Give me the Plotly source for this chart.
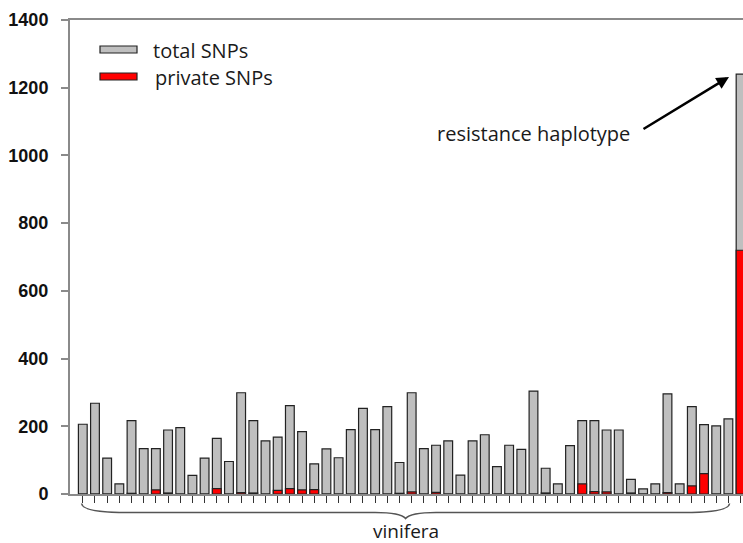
import plotly.graph_objects as go

# ---- data ----
total_snps = [206, 268, 106, 30, 217, 134, 134, 189, 196, 55,
              106, 164, 96, 299, 217, 157, 168, 261, 184, 89,
              133, 107, 190, 253, 190, 258, 93, 299, 134, 144,
              157, 56, 157, 175, 81, 144, 132, 304, 76, 30,
              143, 217, 217, 189, 189, 43, 15, 30, 296, 30,
              258, 205, 201, 222, 1240]
private_snps = [0, 0, 0, 0, 2, 0, 12, 3, 0, 0,
                0, 16, 0, 4, 3, 0, 11, 16, 12, 13,
                0, 0, 0, 0, 0, 0, 2, 6, 0, 5,
                0, 0, 0, 0, 0, 0, 0, 0, 3, 0,
                0, 30, 7, 6, 0, 3, 0, 0, 4, 0,
                24, 60, 0, 0, 720]
y_ticks = [0, 200, 400, 600, 800, 1000, 1200, 1400]
legend_labels = ["total SNPs", "private SNPs"]
group_label = "vinifera"
highlight_label = "resistance haplotype"
n_vinifera = 54

idx = list(range(len(total_snps)))

# plot-area geometry (pixels)
L, R, T, B = 70, 743, 20, 494
W, H = R - L, B - T


def pxx(x):
    return (x - L) / W


def pxy(y):
    return (B - y) / H


GRAY = "#bfbfbf"
RED = "#ff0000"
EDGE = "#222222"
AXIS = "#8a8a8a"
FONT = "Open Sans"
TXT = "#1a1a1a"

fig = go.Figure()
fig.add_trace(go.Bar(x=idx, y=total_snps, width=0.72,
                     marker=dict(color=GRAY, line=dict(color=EDGE, width=1.2)),
                     name=legend_labels[0], showlegend=False))
fig.add_trace(go.Bar(x=idx, y=private_snps, width=0.72,
                     marker=dict(color=RED, line=dict(color=EDGE, width=1.2)),
                     name=legend_labels[1], showlegend=False))

shapes = []
annotations = []

# legend (manual, wide flat swatches)
for i, (lab, col) in enumerate(zip(legend_labels, [GRAY, RED])):
    yc = 49.5 + i * 27
    shapes.append(dict(type="rect", xref="paper", yref="paper",
                       x0=pxx(100), x1=pxx(137), y0=pxy(yc - 3.5), y1=pxy(yc + 3.5),
                       fillcolor=col, line=dict(color=EDGE, width=1.2)))
    annotations.append(dict(xref="paper", yref="paper", x=pxx(151 + i * 2), y=pxy(yc + 1),
                            xanchor="left", yanchor="middle", showarrow=False,
                            text=lab, font=dict(family=FONT, size=20, color=TXT)))

# curly brace under vinifera accessions (x in category units, y in paper)
x_left, x_right = 0, n_vinifera - 1
x_mid = (x_left + x_right) / 2
yb_end, yb_line, yb_tip = pxy(503.5), pxy(512.5), pxy(518.5)
path = (f"M {x_left - 0.1},{yb_end} "
        f"Q {x_left},{yb_line} {x_left + 3.6},{yb_line} "
        f"L {x_mid - 2.5},{yb_line} "
        f"Q {x_mid - 0.4},{yb_line} {x_mid},{yb_tip} "
        f"Q {x_mid + 0.4},{yb_line} {x_mid + 2.5},{yb_line} "
        f"L {x_right - 3.6},{yb_line} "
        f"Q {x_right},{yb_line} {x_right + 0.1},{yb_end}")
shapes.append(dict(type="path", xref="x", yref="paper", path=path,
                   line=dict(color="#555555", width=1.5)))

annotations.append(dict(xref="x", yref="paper", x=x_mid, y=pxy(531),
                        xanchor="center", yanchor="middle", showarrow=False,
                        text=group_label, font=dict(family=FONT, size=19, color=TXT)))

# resistance haplotype label and arrow
annotations.append(dict(xref="paper", yref="paper", x=pxx(533), y=pxy(133),
                        xanchor="center", yanchor="middle", showarrow=False,
                        text=highlight_label, font=dict(family=FONT, size=20, color=TXT)))
annotations.append(dict(xref="x", yref="y", x=len(total_snps) - 1.95, y=total_snps[-1] - 8,
                        ax=-87, ay=53, axref="pixel", ayref="pixel", text="",
                        showarrow=True, arrowhead=2, arrowsize=1, arrowwidth=2.5,
                        arrowcolor="#000000"))

fig.update_layout(
    width=743, height=543,
    margin=dict(l=L, r=743 - R, t=T, b=543 - B),
    paper_bgcolor="white", plot_bgcolor="white",
    barmode="overlay",
    shapes=shapes, annotations=annotations,
    showlegend=False,
)
fig.update_xaxes(range=[-1.05, 54.2], tickmode="array", tickvals=idx,
                 showticklabels=False, ticks="outside", ticklen=7, tickwidth=1,
                 tickcolor="#333333", showline=True, linecolor=AXIS, linewidth=2,
                 mirror=True, showgrid=False, zeroline=False)
fig.update_yaxes(range=[0, 1400], tickmode="array", tickvals=y_ticks,
                 ticktext=[str(v) for v in y_ticks],
                 ticks="outside", ticklen=7, tickwidth=2, tickcolor=AXIS,
                 showline=True, linecolor=AXIS, linewidth=2, showgrid=False,
                 zeroline=False, ticklabelstandoff=9,
                 tickfont=dict(family="Liberation Sans", size=18, color="#111111",
                               weight="bold"))

fig.write_html("out.html")
